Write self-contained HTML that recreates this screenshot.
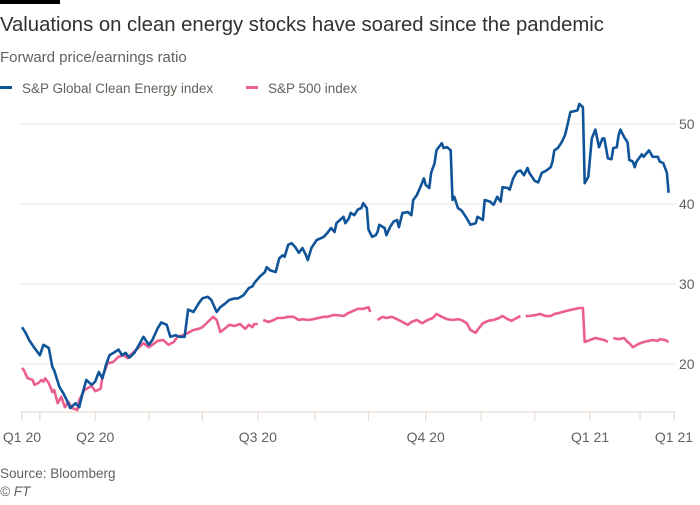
<!DOCTYPE html>
<html><head><meta charset="utf-8">
<style>
body{margin:0;background:#fff;width:700px;height:500px;overflow:hidden;font-family:"Liberation Sans",sans-serif;}
svg text{font-family:"Liberation Sans",sans-serif;}
</style></head>
<body>
<svg id="chart" width="700" height="500" viewBox="0 0 700 500" xmlns="http://www.w3.org/2000/svg">
<rect x="0" y="0" width="60" height="4" fill="#000"/>
<text x="0" y="31" font-size="20.3" fill="#33302e">Valuations on clean energy stocks have soared since the pandemic</text>
<text x="0" y="62" font-size="15" fill="#66605c">Forward price/earnings ratio</text>
<g>
<g>
<rect x="0" y="86" width="12" height="3" fill="#0f5499"/>
<text x="22" y="93" font-size="13.5" fill="#66605c">S&amp;P Global Clean Energy index</text></g>
<g>
<rect x="246" y="86" width="12" height="3" fill="#eb5e8d"/>
<text x="268" y="93" font-size="13.5" fill="#66605c">S&amp;P 500 index</text></g>
</g>
<g id="grid"></g>
<g id="yaxis"></g>
<g id="xaxis"></g>
<g id="series"></g>
<text x="0" y="478" font-size="13.5" fill="#66605c">Source: Bloomberg</text>
<text x="0" y="496" font-size="13.5" font-style="italic" fill="#66605c">© FT</text>
</svg>
<script>
// Data (x in days since chart start, ~20 Feb 2020)
const yTicks = [20, 30, 40, 50];
const xTickDays = [0,10,41,71,101,132,164,194,226,257,287,318,346,365];
const xLabelDays = [0,41,132,226,318,365];
const xLabels = ["Q1 20","Q2 20","Q3 20","Q4 20","Q1 21","Q1 21"];

const cleanDays = [0,2,4,7,10,12,15,17,18,21,23,25,27,30,32,34,36,39,41,43,45,47,49,52,54,56,58,60,63,66,68,71,73,76,78,81,83,86,88,91,93,96,99,101,104,106,109,111,114,116,119,121,124,127,129,130,133,136,137,139,142,144,146,147,149,151,153,155,157,159,160,162,165,167,169,171,173,175,176,178,180,181,183,184,186,188,190,191,193,194,196,198,199,200,203,204,206,208,210,211,213,214,216,218,219,221,223,225,226,228,229,231,232,235,236,238,240,241,242,244,246,247,249,251,254,255,258,259,262,264,266,268,269,272,273,275,277,279,281,283,284,287,289,291,293,296,297,298,300,302,304,305,307,309,311,312,314,315,317,319,321,323,325,326,328,330,331,333,334,335,337,339,340,342,343,344,347,348,351,353,356,357,359,361,362];
const cleanValues = [24.6,23.9,23.0,22.0,21.1,22.4,22.0,19.6,19.2,17.1,16.4,15.5,14.5,15.1,14.6,16.4,18.0,17.4,17.8,19.0,18.2,19.9,21.1,21.5,21.8,21.1,21.4,20.8,21.4,22.6,23.4,22.4,23.0,24.5,25.2,24.9,23.4,23.6,23.4,23.4,26.8,26.5,27.6,28.2,28.4,28.0,26.5,27.1,27.6,28.0,28.2,28.2,28.6,29.5,29.7,30.1,30.9,31.5,32.1,31.7,31.5,33.2,33.6,33.4,34.9,35.1,34.6,33.9,34.5,33.6,33.0,34.5,35.5,35.7,35.9,36.4,37.0,36.5,37.6,38.0,38.4,37.6,38.2,38.9,38.6,39.3,39.5,40.1,39.5,36.8,35.9,36.1,36.5,37.4,37.0,36.1,37.1,37.8,38.0,37.1,38.9,38.9,39.0,38.6,40.5,41.1,42.1,43.2,42.4,42.0,43.9,45.1,46.7,47.6,47.0,47.1,46.7,40.5,40.9,39.5,39.2,38.9,38.2,37.4,37.6,38.4,38.0,40.5,40.3,39.9,40.9,40.3,42.1,42.0,41.8,43.2,44.0,44.2,43.6,44.5,43.9,42.9,42.7,43.9,44.1,44.6,45.3,46.7,47.0,47.7,48.6,49.5,51.5,51.6,51.7,52.5,52.1,42.6,43.4,48.2,49.3,47.1,48.2,48.2,45.7,45.6,47.0,47.1,48.6,49.3,48.4,47.7,45.5,45.3,44.6,45.3,46.2,45.9,46.7,45.9,45.9,45.3,45.1,43.9,41.4];

const spDays = [0,1,3,6,7,9,11,12,13,15,17,18,20,22,24,26,28,31,32,35,37,39,41,44,45,48,51,54,57,59,62,65,68,71,73,76,79,82,85,87,90,93,96,99,101,104,107,109,111,114,116,119,122,125,127,129,130,132,null,135,138,141,143,146,149,152,155,157,160,163,166,169,171,174,177,180,183,185,188,191,194,195,null,199,202,204,207,210,213,216,218,221,224,227,230,232,235,238,241,244,246,249,251,254,255,258,261,264,267,269,272,274,277,279,null,282,284,287,290,293,296,298,301,304,307,310,312,314,315,318,321,324,326,328,null,331,334,337,339,340,342,345,348,351,353,356,357,360,362];
const spValues = [19.5,19.25,18.25,18.0,17.4,17.6,18.0,17.8,18.2,17.6,16.5,16.75,15.1,15.9,14.6,15.25,14.5,14.25,15.5,16.75,17.0,17.25,16.6,16.9,18.4,20.1,20.25,20.9,21.1,20.75,21.4,22.0,22.6,22.1,22.4,22.9,23.0,22.4,22.75,23.4,23.6,23.9,24.25,24.4,24.6,25.25,25.9,25.5,24.0,24.5,24.9,24.75,25.0,24.4,24.9,24.6,25.0,25.0,null,25.5,25.25,25.5,25.75,25.75,25.9,25.9,25.5,25.6,25.5,25.6,25.75,25.9,25.9,26.1,26.1,26.0,26.4,26.6,26.9,26.9,27.1,26.5,null,25.5,25.9,25.75,25.9,25.6,25.25,24.9,25.25,25.5,25.1,25.5,25.75,26.25,25.9,25.6,25.5,25.6,25.5,25.1,24.25,23.9,24.25,25.1,25.4,25.5,25.75,26.0,25.6,25.4,25.75,26.0,null,26.0,26.0,26.1,26.25,26.0,26.0,26.25,26.4,26.6,26.75,26.9,27.0,27.0,22.75,23.0,23.25,23.1,23.0,22.75,null,23.25,23.1,23.25,22.75,22.6,22.1,22.5,22.75,22.9,23.0,22.9,23.1,23.0,22.75];

const NS = "http://www.w3.org/2000/svg";
const X0 = 22, X1 = 674, D0 = 0, D1 = 365;
const xScale = d => X0 + (d - D0) / (D1 - D0) * (X1 - X0);
const yScale = v => 124 + (50 - v) * 8;
function mk(tag, attrs, parent){const e=document.createElementNS(NS,tag);for(const k in attrs)e.setAttribute(k,attrs[k]);parent.appendChild(e);return e;}

const grid=document.getElementById('grid'), yax=document.getElementById('yaxis'), xax=document.getElementById('xaxis'), ser=document.getElementById('series');
yTicks.forEach(t=>{
  const l=mk('line',{x1:20,x2:676,y1:yScale(t),y2:yScale(t),stroke:'#f2ebe5','stroke-width':1.2},grid);
  
  
  const tx=mk('text',{x:679,y:yScale(t)+5,'font-size':14,fill:'#66605c'},yax);
  tx.textContent=t;
  
  
});
const base=mk('line',{x1:20,x2:676,y1:412,y2:412,stroke:'#e6dcd4','stroke-width':1.2},xax);


xTickDays.forEach(d=>{
  const t=mk('line',{x1:xScale(d),x2:xScale(d),y1:412,y2:421,stroke:'#e6dcd4','stroke-width':1.2},xax);
  
  
});
xLabelDays.forEach((d,i)=>{
  const tx=mk('text',{x:xScale(d),y:442,'font-size':14,fill:'#66605c','text-anchor':'middle'},xax);
  tx.textContent=xLabels[i];
  
  
});
function pathFor(days, vals){
  let s='', pen=false;
  days.forEach((d,i)=>{
    const v=vals[i];
    if(d===null||v===null){pen=false;return;}
    s+=(pen?'L':'M')+xScale(d).toFixed(1)+','+yScale(v).toFixed(1);
    pen=true;
  });
  return s;
}
const pSp=mk('path',{d:pathFor(spDays,spValues),fill:'none',stroke:'#eb5e8d','stroke-width':2.6,'stroke-linejoin':'round'},ser);


const pCe=mk('path',{d:pathFor(cleanDays,cleanValues),fill:'none',stroke:'#0f5499','stroke-width':2.6,'stroke-linejoin':'round'},ser);


</script>
</body></html>
